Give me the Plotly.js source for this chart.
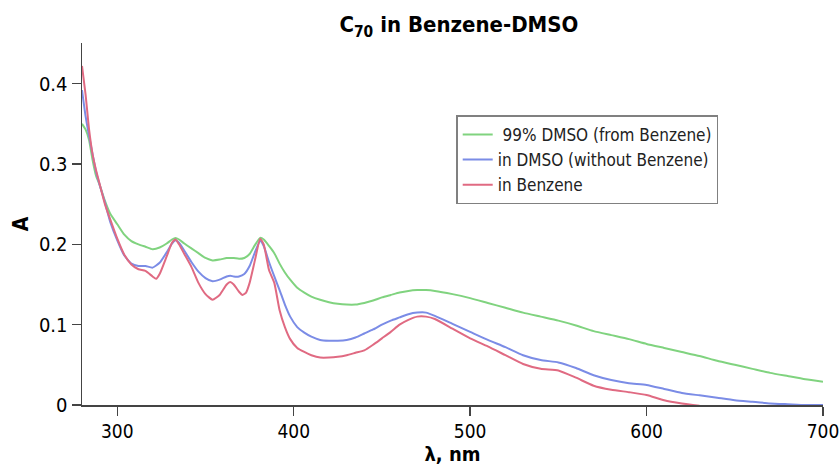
<!DOCTYPE html>
<html>
<head>
<meta charset="utf-8">
<script src="https://cdn.plot.ly/plotly-3.0.1.min.js"></script>
<style>html,body{margin:0;padding:0;background:#fff;}#chart{width:839px;height:466px;}</style>
</head>
<body>
<div id="chart"></div>
<script>
// Wavelengths (nm) and absorbance values
const wlGreen = [280,282,284,286,288,290,293,296,300,304,308,312,316,320,324,328,331,333,335,338,342,346,350,354,358,362,364,366,369,372,375,378,381,383,386,389,392,395,398,402,406,410,415,420,425,430,435,440,445,450,455,460,465,470,475,480,490,500,510,520,530,540,550,560,570,580,590,600,610,620,630,640,650,660,670,680,690,700];
const absGreen = [0.350,0.343,0.330,0.305,0.285,0.274,0.254,0.238,0.225,0.212,0.204,0.200,0.197,0.194,0.196,0.201,0.206,0.208,0.206,0.201,0.195,0.189,0.183,0.180,0.181,0.183,0.183,0.183,0.182,0.183,0.188,0.199,0.208,0.206,0.198,0.189,0.176,0.165,0.156,0.146,0.140,0.135,0.131,0.128,0.126,0.125,0.125,0.127,0.130,0.134,0.137,0.140,0.142,0.143,0.143,0.142,0.138,0.133,0.127,0.121,0.115,0.110,0.105,0.099,0.092,0.087,0.082,0.076,0.071,0.066,0.061,0.055,0.050,0.045,0.040,0.036,0.032,0.029];

const wlBlue = [280,282,284,286,288,290,293,296,300,304,308,312,316,320,324,328,331,333,335,338,342,346,350,354,358,362,364,366,369,372,375,378,381,383,386,389,392,395,398,402,406,410,415,420,425,430,435,440,445,450,455,460,465,470,475,480,490,500,510,520,530,540,550,560,570,580,590,600,610,620,630,640,650,660,670,680,690,700];
const absBlue = [0.392,0.360,0.335,0.312,0.290,0.274,0.252,0.228,0.205,0.186,0.176,0.173,0.173,0.171,0.177,0.190,0.201,0.205,0.202,0.192,0.178,0.166,0.158,0.154,0.156,0.160,0.161,0.160,0.160,0.163,0.173,0.190,0.204,0.198,0.178,0.160,0.143,0.125,0.110,0.097,0.090,0.085,0.081,0.080,0.080,0.081,0.084,0.089,0.094,0.100,0.105,0.109,0.113,0.115,0.115,0.111,0.101,0.091,0.081,0.072,0.062,0.056,0.053,0.046,0.037,0.031,0.027,0.025,0.020,0.015,0.012,0.009,0.006,0.004,0.002,0.001,0.000,0.000];

const wlRed = [280,282,284,286,288,290,293,296,300,304,308,312,316,320,322,324,328,331,333,335,338,342,346,350,354,358,362,364,366,369,371,373,375,378,381,383,386,389,392,395,398,402,406,410,415,420,425,430,435,440,445,450,455,460,465,470,475,480,490,500,510,520,530,540,550,560,570,580,590,600,610,620,630];
const absRed = [0.422,0.387,0.343,0.312,0.292,0.275,0.250,0.231,0.207,0.187,0.175,0.169,0.167,0.160,0.157,0.163,0.185,0.202,0.206,0.200,0.188,0.172,0.152,0.138,0.131,0.137,0.150,0.153,0.150,0.141,0.137,0.140,0.152,0.180,0.207,0.200,0.168,0.152,0.118,0.097,0.082,0.071,0.066,0.062,0.059,0.059,0.060,0.062,0.065,0.068,0.075,0.083,0.091,0.100,0.106,0.110,0.110,0.107,0.095,0.083,0.073,0.062,0.051,0.045,0.043,0.034,0.024,0.019,0.016,0.0125,0.006,0.002,-0.001];

const seriesNames = ["\u00a099% DMSO (from Benzene)", "in DMSO (without Benzene)", "in Benzene"];
const xTicks = [300, 400, 500, 600, 700];
const yTicks = [0, 0.1, 0.2, 0.3, 0.4];
const yTickText = ["0", "0.1", "0.2", "0.3", "0.4"];

const FONT = "DejaVu Sans Condensed, DejaVu Sans, sans-serif";

const lineStyle = (c) => ({color: c, width: 2, shape: "spline", smoothing: 0.5});
const traces = [
  {x: wlGreen, y: absGreen, name: seriesNames[0], type: "scatter", mode: "lines", line: lineStyle("#80d37f")},
  {x: wlBlue, y: absBlue, name: seriesNames[1], type: "scatter", mode: "lines", line: lineStyle("#7b8ce6")},
  {x: wlRed, y: absRed, name: seriesNames[2], type: "scatter", mode: "lines", line: lineStyle("#e06a82")}
];

const layout = {
  width: 839, height: 466,
  paper_bgcolor: "#fff", plot_bgcolor: "#fff",
  margin: {l: 82, r: 16, t: 43, b: 61, pad: 0},
  font: {family: FONT, color: "#000", size: 20},
  title: {text: "<b>C<sub>70</sub> in Benzene-DMSO</b>", font: {family: FONT, size: 22, color: "#000"}, x: 0.547, xref: "container", xanchor: "center", y: 0.948, yref: "container", yanchor: "middle"},
  xaxis: {
    range: [280, 700], tickvals: xTicks, ticktext: xTicks.map(String),
    showgrid: false, zeroline: false, showline: true, linecolor: "#444", linewidth: 1.5,
    ticks: "outside", ticklen: 9, tickcolor: "#444", tickwidth: 1.5,
    ticklabeloverflow: "allow",
    tickfont: {family: FONT, size: 19, color: "#000"},
    title: {text: "<b>\u03bb, nm</b>", font: {family: FONT, size: 20, color: "#000"}, standoff: 5}
  },
  yaxis: {
    range: [0, 0.4506], tickvals: yTicks, ticktext: yTickText,
    showgrid: false, zeroline: false, showline: true, linecolor: "#444", linewidth: 1.5,
    ticks: "outside", ticklen: 9, tickcolor: "#444", tickwidth: 1.5,
    ticklabeloverflow: "allow",
    tickfont: {family: FONT, size: 20, color: "#000"},
    title: {text: "<b>A</b>", font: {family: FONT, size: 21, color: "#000"}, standoff: 4}
  },
  showlegend: true,
  legend: {
    x: 0.505, y: 0.80, xanchor: "left", yanchor: "top",
    bgcolor: "#fff", bordercolor: "#808080", borderwidth: 1.5,
    font: {family: FONT, size: 17, color: "#222"},
    tracegroupgap: 0, itemwidth: 30
  }
};

Plotly.newPlot("chart", traces, layout, {displayModeBar: false, staticPlot: true});
</script>
</body>
</html>
